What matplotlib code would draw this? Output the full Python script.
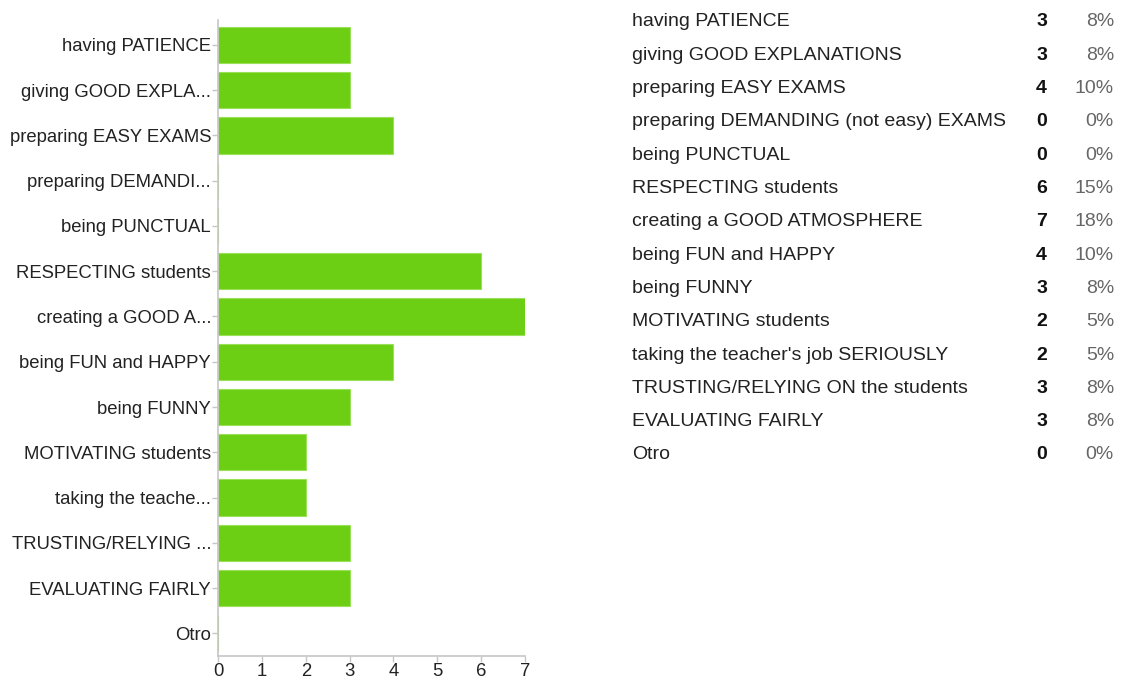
import math
import matplotlib
matplotlib.use("Agg")
from matplotlib import pyplot as plt

plt.rcParams['font.family'] = ['Liberation Sans', 'DejaVu Sans']

# survey answers and how many people picked each one
answers = [
    "having PATIENCE",
    "giving GOOD EXPLANATIONS",
    "preparing EASY EXAMS",
    "preparing DEMANDING (not easy) EXAMS",
    "being PUNCTUAL",
    "RESPECTING students",
    "creating a GOOD ATMOSPHERE",
    "being FUN and HAPPY",
    "being FUNNY",
    "MOTIVATING students",
    "taking the teacher's job SERIOUSLY",
    "TRUSTING/RELYING ON the students",
    "EVALUATING FAIRLY",
    "Otro",
]
counts = [3, 3, 4, 0, 0, 6, 7, 4, 3, 2, 2, 3, 3, 0]
xticks = [0, 1, 2, 3, 4, 5, 6, 7]

green = '#6ccf14'
axis_gray = '#c6c6c6'

def shorten(s):
    # long labels get cut on the axis, full text is in the table
    return s if len(s) <= 20 else s[:17] + '...'

total = sum(counts)
pcts = ['%d%%' % math.floor(100.0 * c / total + 0.5) for c in counts]

fig = plt.figure(figsize=(11.22, 6.83), dpi=100)
ax = fig.add_axes([218/1122, 27/683, (525-218)/1122, (656-20)/683])

ypos = list(range(len(answers)))
ax.barh(ypos, counts, height=0.8, color=green, edgecolor='#9be05a', linewidth=0.8)
ax.set_ylim(len(answers) - 0.5, -0.55)
ax.set_xlim(0, 7)
ax.set_yticks(ypos)
ax.set_yticklabels([shorten(a) for a in answers], fontsize=13.3, color='#222222')
ax.set_xticks(xticks)
ax.set_xticklabels([str(t) for t in xticks], fontsize=13.3, color='#222222')
ax.tick_params(axis='y', length=4, width=1, color=axis_gray, pad=1)
ax.tick_params(axis='x', length=4, width=1, color=axis_gray, pad=1)
for side in ['top', 'right']:
    ax.spines[side].set_visible(False)
for side in ['left', 'bottom']:
    ax.spines[side].set_color(axis_gray)
    ax.spines[side].set_linewidth(1.2)

# summary table on the right
row_y0 = 22
row_step = 33.3
fs = 14
for i, (a, c, p) in enumerate(zip(answers, counts, pcts)):
    y = 1 - (row_y0 + i * row_step) / 683
    fig.text(632/1122, y, a, fontsize=fs, color='#222222', va='center', ha='left')
    fig.text(1047/1122, y, str(c), fontsize=fs, color='#111111', fontweight='bold',
             va='center', ha='right')
    fig.text(1114/1122, y, p, fontsize=fs, color='#666666', va='center', ha='right')

fig.savefig('out.png', dpi=100)
